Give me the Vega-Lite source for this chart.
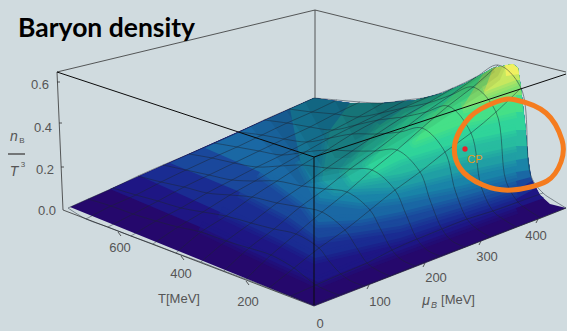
{"$schema":"https://vega.github.io/schema/vega-lite/v6.json","width":567,"height":331,"padding":0,"autosize":{"type":"none"},"background":"#d0dbdf","config":{"view":{"stroke":null}},
"datasets":{
"grid":[
{"u":0,"v":0,"x":314,"y":305},{"u":0,"v":0.05,"x":301,"y":300},{"u":0,"v":0.09,"x":291,"y":296},{"u":0,"v":0.14,"x":279,"y":292},{"u":0,"v":0.18,"x":269,"y":288},{"u":0,"v":0.27,"x":246,"y":279},{"u":0,"v":0.36,"x":224,"y":271},{"u":0,"v":0.45,"x":201,"y":262},{"u":0,"v":0.55,"x":176,"y":253},{"u":0,"v":0.64,"x":153,"y":244},{"u":0,"v":0.73,"x":131,"y":236},{"u":0,"v":0.82,"x":108,"y":227},{"u":0,"v":0.91,"x":86,"y":219},{"u":0,"v":1,"x":68,"y":208},
{"u":0.1,"v":0,"x":339,"y":295},{"u":0.1,"v":0.05,"x":326,"y":290},{"u":0.1,"v":0.09,"x":316,"y":285},{"u":0.1,"v":0.14,"x":304,"y":276},{"u":0.1,"v":0.18,"x":294,"y":268},{"u":0.1,"v":0.27,"x":271,"y":255},{"u":0.1,"v":0.36,"x":249,"y":248},{"u":0.1,"v":0.45,"x":226,"y":241},{"u":0.1,"v":0.55,"x":201,"y":232},{"u":0.1,"v":0.64,"x":178,"y":227},{"u":0.1,"v":0.73,"x":156,"y":221},{"u":0.1,"v":0.82,"x":133,"y":214},{"u":0.1,"v":0.91,"x":111,"y":206},{"u":0.1,"v":1,"x":88,"y":199},
{"u":0.2,"v":0,"x":364,"y":286},{"u":0.2,"v":0.05,"x":351,"y":281},{"u":0.2,"v":0.09,"x":341,"y":274},{"u":0.2,"v":0.14,"x":329,"y":261},{"u":0.2,"v":0.18,"x":319,"y":248},{"u":0.2,"v":0.27,"x":296,"y":234},{"u":0.2,"v":0.36,"x":274,"y":229},{"u":0.2,"v":0.45,"x":251,"y":223},{"u":0.2,"v":0.55,"x":226,"y":216},{"u":0.2,"v":0.64,"x":203,"y":212},{"u":0.2,"v":0.73,"x":181,"y":208},{"u":0.2,"v":0.82,"x":158,"y":201},{"u":0.2,"v":0.91,"x":136,"y":195},{"u":0.2,"v":1,"x":113,"y":188},
{"u":0.3,"v":0,"x":390,"y":276},{"u":0.3,"v":0.05,"x":377,"y":270},{"u":0.3,"v":0.09,"x":367,"y":263},{"u":0.3,"v":0.14,"x":355,"y":245},{"u":0.3,"v":0.18,"x":345,"y":230},{"u":0.3,"v":0.27,"x":322,"y":212},{"u":0.3,"v":0.36,"x":300,"y":207},{"u":0.3,"v":0.45,"x":277,"y":203},{"u":0.3,"v":0.55,"x":252,"y":197},{"u":0.3,"v":0.64,"x":230,"y":195},{"u":0.3,"v":0.73,"x":207,"y":193},{"u":0.3,"v":0.82,"x":184,"y":187},{"u":0.3,"v":0.91,"x":161,"y":182},{"u":0.3,"v":1,"x":138,"y":176},
{"u":0.4,"v":0,"x":415,"y":266},{"u":0.4,"v":0.05,"x":402,"y":260},{"u":0.4,"v":0.09,"x":392,"y":250},{"u":0.4,"v":0.14,"x":380,"y":228},{"u":0.4,"v":0.18,"x":370,"y":210},{"u":0.4,"v":0.27,"x":347,"y":192},{"u":0.4,"v":0.36,"x":325,"y":189},{"u":0.4,"v":0.45,"x":302,"y":186},{"u":0.4,"v":0.55,"x":277,"y":181},{"u":0.4,"v":0.64,"x":255,"y":181},{"u":0.4,"v":0.73,"x":232,"y":180},{"u":0.4,"v":0.82,"x":209,"y":175},{"u":0.4,"v":0.91,"x":186,"y":170},{"u":0.4,"v":1,"x":163,"y":165},
{"u":0.5,"v":0,"x":440,"y":256},{"u":0.5,"v":0.05,"x":427,"y":250},{"u":0.5,"v":0.09,"x":417,"y":239},{"u":0.5,"v":0.14,"x":405,"y":212},{"u":0.5,"v":0.18,"x":395,"y":190},{"u":0.5,"v":0.27,"x":372,"y":170},{"u":0.5,"v":0.36,"x":350,"y":169},{"u":0.5,"v":0.45,"x":327,"y":168},{"u":0.5,"v":0.55,"x":302,"y":165},{"u":0.5,"v":0.64,"x":280,"y":166},{"u":0.5,"v":0.73,"x":257,"y":167},{"u":0.5,"v":0.82,"x":234,"y":163},{"u":0.5,"v":0.91,"x":212,"y":158},{"u":0.5,"v":1,"x":189,"y":154},
{"u":0.6,"v":0,"x":465,"y":247},{"u":0.6,"v":0.05,"x":452,"y":241},{"u":0.6,"v":0.09,"x":442,"y":229},{"u":0.6,"v":0.14,"x":430,"y":200},{"u":0.6,"v":0.18,"x":420,"y":172},{"u":0.6,"v":0.27,"x":397,"y":150},{"u":0.6,"v":0.36,"x":375,"y":151},{"u":0.6,"v":0.45,"x":352,"y":151},{"u":0.6,"v":0.55,"x":327,"y":150},{"u":0.6,"v":0.64,"x":305,"y":152},{"u":0.6,"v":0.73,"x":282,"y":155},{"u":0.6,"v":0.82,"x":259,"y":151},{"u":0.6,"v":0.91,"x":237,"y":147},{"u":0.6,"v":1,"x":214,"y":143},
{"u":0.7,"v":0,"x":490,"y":237},{"u":0.7,"v":0.05,"x":477,"y":229},{"u":0.7,"v":0.09,"x":467,"y":219},{"u":0.7,"v":0.14,"x":455,"y":190},{"u":0.7,"v":0.18,"x":445,"y":152},{"u":0.7,"v":0.27,"x":422,"y":128},{"u":0.7,"v":0.36,"x":400,"y":132},{"u":0.7,"v":0.45,"x":377,"y":134},{"u":0.7,"v":0.55,"x":352,"y":134},{"u":0.7,"v":0.64,"x":330,"y":138},{"u":0.7,"v":0.73,"x":307,"y":142},{"u":0.7,"v":0.82,"x":284,"y":139},{"u":0.7,"v":0.91,"x":262,"y":135},{"u":0.7,"v":1,"x":239,"y":132},
{"u":0.8,"v":0,"x":516,"y":227},{"u":0.8,"v":0.05,"x":503,"y":219},{"u":0.8,"v":0.09,"x":493,"y":211},{"u":0.8,"v":0.14,"x":481,"y":186},{"u":0.8,"v":0.18,"x":471,"y":133},{"u":0.8,"v":0.27,"x":448,"y":106},{"u":0.8,"v":0.36,"x":426,"y":112},{"u":0.8,"v":0.45,"x":403,"y":117},{"u":0.8,"v":0.55,"x":378,"y":120},{"u":0.8,"v":0.64,"x":356,"y":125},{"u":0.8,"v":0.73,"x":333,"y":130},{"u":0.8,"v":0.82,"x":310,"y":127},{"u":0.8,"v":0.91,"x":287,"y":123},{"u":0.8,"v":1,"x":264,"y":120},
{"u":0.9,"v":0,"x":541,"y":218},{"u":0.9,"v":0.05,"x":528,"y":210},{"u":0.9,"v":0.09,"x":518,"y":202},{"u":0.9,"v":0.14,"x":506,"y":181},{"u":0.9,"v":0.18,"x":496,"y":112},{"u":0.9,"v":0.27,"x":473,"y":87},{"u":0.9,"v":0.36,"x":451,"y":95},{"u":0.9,"v":0.45,"x":428,"y":103},{"u":0.9,"v":0.55,"x":403,"y":108},{"u":0.9,"v":0.64,"x":381,"y":113},{"u":0.9,"v":0.73,"x":358,"y":117},{"u":0.9,"v":0.82,"x":335,"y":114},{"u":0.9,"v":0.91,"x":312,"y":112},{"u":0.9,"v":1,"x":289,"y":109},
{"u":1,"v":0,"x":566,"y":208},{"u":1,"v":0.05,"x":553,"y":200},{"u":1,"v":0.09,"x":543,"y":193},{"u":1,"v":0.14,"x":531,"y":176},{"u":1,"v":0.18,"x":521,"y":88},{"u":1,"v":0.27,"x":498,"y":65},{"u":1,"v":0.36,"x":476,"y":77},{"u":1,"v":0.45,"x":453,"y":88},{"u":1,"v":0.55,"x":428,"y":97},{"u":1,"v":0.64,"x":406,"y":100},{"u":1,"v":0.73,"x":383,"y":103},{"u":1,"v":0.82,"x":360,"y":102},{"u":1,"v":0.91,"x":337,"y":100},{"u":1,"v":1,"x":314,"y":98}
],
"bands":[
{"b":"a00","s":1,"x":70,"y":207},{"b":"a00","s":2,"x":314,"y":306},{"b":"a00","s":3,"x":566,"y":208},{"b":"a00","s":4,"x":550,"y":204},{"b":"a00","s":5,"x":540,"y":195},{"b":"a00","s":6,"x":531,"y":178},{"b":"a00","s":7,"x":528,"y":157},{"b":"a00","s":8,"x":525,"y":123},{"b":"a00","s":9,"x":521,"y":88},{"b":"a00","s":10,"x":518,"y":68},{"b":"a00","s":11,"x":513,"y":64},{"b":"a00","s":12,"x":493,"y":68},{"b":"a00","s":13,"x":466,"y":83},{"b":"a00","s":14,"x":443,"y":93},{"b":"a00","s":15,"x":416,"y":100},{"b":"a00","s":16,"x":383,"y":103},{"b":"a00","s":17,"x":350,"y":103},{"b":"a00","s":18,"x":314,"y":98},
{"b":"a01","s":1,"x":110,"y":189},{"b":"a01","s":2,"x":200,"y":227},{"b":"a01","s":3,"x":270,"y":260},{"b":"a01","s":4,"x":318,"y":282},{"b":"a01","s":5,"x":360,"y":265},{"b":"a01","s":6,"x":420,"y":243},{"b":"a01","s":7,"x":480,"y":221},{"b":"a01","s":8,"x":516,"y":208},{"b":"a01","s":9,"x":544,"y":198},{"b":"a01","s":10,"x":540,"y":195},{"b":"a01","s":11,"x":531,"y":178},{"b":"a01","s":12,"x":528,"y":157},{"b":"a01","s":13,"x":525,"y":123},{"b":"a01","s":14,"x":521,"y":88},{"b":"a01","s":15,"x":518,"y":68},{"b":"a01","s":16,"x":513,"y":64},{"b":"a01","s":17,"x":493,"y":68},{"b":"a01","s":18,"x":466,"y":83},{"b":"a01","s":19,"x":443,"y":93},{"b":"a01","s":20,"x":416,"y":100},{"b":"a01","s":21,"x":383,"y":103},{"b":"a01","s":22,"x":350,"y":103},{"b":"a01","s":23,"x":314,"y":98},
{"b":"a02","s":1,"x":140,"y":176},{"b":"a02","s":2,"x":220,"y":212},{"b":"a02","s":3,"x":280,"y":240},{"b":"a02","s":4,"x":315,"y":258},{"b":"a02","s":5,"x":400,"y":238},{"b":"a02","s":6,"x":460,"y":218},{"b":"a02","s":7,"x":516,"y":199},{"b":"a02","s":8,"x":536,"y":188},{"b":"a02","s":9,"x":531,"y":178},{"b":"a02","s":10,"x":528,"y":157},{"b":"a02","s":11,"x":525,"y":123},{"b":"a02","s":12,"x":521,"y":88},{"b":"a02","s":13,"x":518,"y":68},{"b":"a02","s":14,"x":513,"y":64},{"b":"a02","s":15,"x":493,"y":68},{"b":"a02","s":16,"x":466,"y":83},{"b":"a02","s":17,"x":443,"y":93},{"b":"a02","s":18,"x":416,"y":100},{"b":"a02","s":19,"x":383,"y":103},{"b":"a02","s":20,"x":350,"y":103},{"b":"a02","s":21,"x":314,"y":98},
{"b":"a03","s":1,"x":170,"y":163},{"b":"a03","s":2,"x":240,"y":192},{"b":"a03","s":3,"x":290,"y":218},{"b":"a03","s":4,"x":318,"y":238},{"b":"a03","s":5,"x":360,"y":232},{"b":"a03","s":6,"x":400,"y":226},{"b":"a03","s":7,"x":460,"y":208},{"b":"a03","s":8,"x":516,"y":190},{"b":"a03","s":9,"x":532,"y":181},{"b":"a03","s":10,"x":528,"y":157},{"b":"a03","s":11,"x":525,"y":123},{"b":"a03","s":12,"x":521,"y":88},{"b":"a03","s":13,"x":518,"y":68},{"b":"a03","s":14,"x":513,"y":64},{"b":"a03","s":15,"x":493,"y":68},{"b":"a03","s":16,"x":466,"y":83},{"b":"a03","s":17,"x":443,"y":93},{"b":"a03","s":18,"x":416,"y":100},{"b":"a03","s":19,"x":383,"y":103},{"b":"a03","s":20,"x":350,"y":103},{"b":"a03","s":21,"x":314,"y":98},
{"b":"a04","s":1,"x":205,"y":148},{"b":"a04","s":2,"x":260,"y":172},{"b":"a04","s":3,"x":305,"y":205},{"b":"a04","s":4,"x":318,"y":222},{"b":"a04","s":5,"x":360,"y":220},{"b":"a04","s":6,"x":400,"y":212},{"b":"a04","s":7,"x":460,"y":197},{"b":"a04","s":8,"x":516,"y":181},{"b":"a04","s":9,"x":531,"y":177},{"b":"a04","s":10,"x":528,"y":157},{"b":"a04","s":11,"x":525,"y":123},{"b":"a04","s":12,"x":521,"y":88},{"b":"a04","s":13,"x":518,"y":68},{"b":"a04","s":14,"x":513,"y":64},{"b":"a04","s":15,"x":493,"y":68},{"b":"a04","s":16,"x":466,"y":83},{"b":"a04","s":17,"x":443,"y":93},{"b":"a04","s":18,"x":416,"y":100},{"b":"a04","s":19,"x":383,"y":103},{"b":"a04","s":20,"x":350,"y":103},{"b":"a04","s":21,"x":314,"y":98},
{"b":"a05","s":1,"x":290,"y":109},{"b":"a05","s":2,"x":300,"y":160},{"b":"a05","s":3,"x":320,"y":198},{"b":"a05","s":4,"x":360,"y":203},{"b":"a05","s":5,"x":400,"y":198},{"b":"a05","s":6,"x":460,"y":186},{"b":"a05","s":7,"x":516,"y":172},{"b":"a05","s":8,"x":530,"y":170},{"b":"a05","s":9,"x":528,"y":157},{"b":"a05","s":10,"x":525,"y":123},{"b":"a05","s":11,"x":521,"y":88},{"b":"a05","s":12,"x":518,"y":68},{"b":"a05","s":13,"x":513,"y":64},{"b":"a05","s":14,"x":493,"y":68},{"b":"a05","s":15,"x":466,"y":83},{"b":"a05","s":16,"x":443,"y":93},{"b":"a05","s":17,"x":416,"y":100},{"b":"a05","s":18,"x":383,"y":103},{"b":"a05","s":19,"x":350,"y":103},{"b":"a05","s":20,"x":314,"y":98},
{"b":"a06","s":1,"x":350,"y":103},{"b":"a06","s":2,"x":330,"y":130},{"b":"a06","s":3,"x":322,"y":180},{"b":"a06","s":4,"x":335,"y":190},{"b":"a06","s":5,"x":400,"y":187},{"b":"a06","s":6,"x":460,"y":172},{"b":"a06","s":7,"x":516,"y":160},{"b":"a06","s":8,"x":528,"y":158},{"b":"a06","s":9,"x":525,"y":123},{"b":"a06","s":10,"x":521,"y":88},{"b":"a06","s":11,"x":518,"y":68},{"b":"a06","s":12,"x":513,"y":64},{"b":"a06","s":13,"x":493,"y":68},{"b":"a06","s":14,"x":466,"y":83},{"b":"a06","s":15,"x":443,"y":93},{"b":"a06","s":16,"x":416,"y":100},{"b":"a06","s":17,"x":383,"y":103},
{"b":"a07","s":1,"x":416,"y":100},{"b":"a07","s":2,"x":380,"y":125},{"b":"a07","s":3,"x":345,"y":172},{"b":"a07","s":4,"x":352,"y":182},{"b":"a07","s":5,"x":400,"y":174},{"b":"a07","s":6,"x":460,"y":158},{"b":"a07","s":7,"x":516,"y":146},{"b":"a07","s":8,"x":527,"y":146},{"b":"a07","s":9,"x":525,"y":123},{"b":"a07","s":10,"x":521,"y":88},{"b":"a07","s":11,"x":518,"y":68},{"b":"a07","s":12,"x":513,"y":64},{"b":"a07","s":13,"x":493,"y":68},{"b":"a07","s":14,"x":466,"y":83},{"b":"a07","s":15,"x":443,"y":93},
{"b":"a08","s":1,"x":443,"y":93},{"b":"a08","s":2,"x":410,"y":115},{"b":"a08","s":3,"x":368,"y":165},{"b":"a08","s":4,"x":375,"y":172},{"b":"a08","s":5,"x":400,"y":160},{"b":"a08","s":6,"x":460,"y":142},{"b":"a08","s":7,"x":516,"y":130},{"b":"a08","s":8,"x":526,"y":130},{"b":"a08","s":9,"x":521,"y":88},{"b":"a08","s":10,"x":518,"y":68},{"b":"a08","s":11,"x":513,"y":64},{"b":"a08","s":12,"x":493,"y":68},{"b":"a08","s":13,"x":466,"y":83},
{"b":"a09","s":1,"x":466,"y":83},{"b":"a09","s":2,"x":435,"y":112},{"b":"a09","s":3,"x":415,"y":142},{"b":"a09","s":4,"x":460,"y":125},{"b":"a09","s":5,"x":516,"y":112},{"b":"a09","s":6,"x":523,"y":112},{"b":"a09","s":7,"x":521,"y":88},{"b":"a09","s":8,"x":518,"y":68},{"b":"a09","s":9,"x":513,"y":64},{"b":"a09","s":10,"x":493,"y":68},
{"b":"a10","s":1,"x":483,"y":74},{"b":"a10","s":2,"x":462,"y":108},{"b":"a10","s":3,"x":516,"y":95},{"b":"a10","s":4,"x":522,"y":95},{"b":"a10","s":5,"x":521,"y":88},{"b":"a10","s":6,"x":518,"y":68},{"b":"a10","s":7,"x":513,"y":64},{"b":"a10","s":8,"x":493,"y":68},
{"b":"a11","s":1,"x":493,"y":68},{"b":"a11","s":2,"x":484,"y":92},{"b":"a11","s":3,"x":516,"y":80},{"b":"a11","s":4,"x":520,"y":80},{"b":"a11","s":5,"x":518,"y":68},{"b":"a11","s":6,"x":513,"y":64},
{"b":"a12","s":1,"x":505,"y":65},{"b":"a12","s":2,"x":506,"y":76},{"b":"a12","s":3,"x":519,"y":74},{"b":"a12","s":4,"x":518,"y":68},{"b":"a12","s":5,"x":513,"y":64}
],
"shade":[
{"b":"s1","s":1,"x":250,"y":126},{"b":"s1","s":2,"x":300,"y":185},{"b":"s1","s":3,"x":345,"y":178},{"b":"s1","s":4,"x":392,"y":152},{"b":"s1","s":5,"x":427,"y":130},{"b":"s1","s":6,"x":457,"y":110},{"b":"s1","s":7,"x":482,"y":94},{"b":"s1","s":8,"x":500,"y":80},{"b":"s1","s":9,"x":506,"y":66},{"b":"s1","s":10,"x":493,"y":68},{"b":"s1","s":11,"x":466,"y":83},{"b":"s1","s":12,"x":443,"y":93},{"b":"s1","s":13,"x":416,"y":100},{"b":"s1","s":14,"x":383,"y":103},{"b":"s1","s":15,"x":350,"y":103},{"b":"s1","s":16,"x":314,"y":98},
{"b":"s2","s":1,"x":268,"y":118},{"b":"s2","s":2,"x":312,"y":178},{"b":"s2","s":3,"x":345,"y":172},{"b":"s2","s":4,"x":390,"y":146},{"b":"s2","s":5,"x":424,"y":126},{"b":"s2","s":6,"x":454,"y":106},{"b":"s2","s":7,"x":479,"y":90},{"b":"s2","s":8,"x":498,"y":76},{"b":"s2","s":9,"x":503,"y":66},{"b":"s2","s":10,"x":493,"y":68},{"b":"s2","s":11,"x":466,"y":83},{"b":"s2","s":12,"x":443,"y":93},{"b":"s2","s":13,"x":416,"y":100},{"b":"s2","s":14,"x":383,"y":103},{"b":"s2","s":15,"x":350,"y":103},{"b":"s2","s":16,"x":314,"y":98},
{"b":"s3","s":1,"x":286,"y":110},{"b":"s3","s":2,"x":325,"y":172},{"b":"s3","s":3,"x":345,"y":166},{"b":"s3","s":4,"x":387,"y":140},{"b":"s3","s":5,"x":420,"y":120},{"b":"s3","s":6,"x":450,"y":102},{"b":"s3","s":7,"x":475,"y":87},{"b":"s3","s":8,"x":495,"y":72},{"b":"s3","s":9,"x":493,"y":68},{"b":"s3","s":10,"x":466,"y":83},{"b":"s3","s":11,"x":443,"y":93},{"b":"s3","s":12,"x":416,"y":100},{"b":"s3","s":13,"x":383,"y":103},{"b":"s3","s":14,"x":350,"y":103},{"b":"s3","s":15,"x":314,"y":98},
{"b":"s4","s":1,"x":305,"y":102},{"b":"s4","s":2,"x":335,"y":158},{"b":"s4","s":3,"x":350,"y":158},{"b":"s4","s":4,"x":384,"y":134},{"b":"s4","s":5,"x":415,"y":114},{"b":"s4","s":6,"x":445,"y":98},{"b":"s4","s":7,"x":470,"y":84},{"b":"s4","s":8,"x":490,"y":71},{"b":"s4","s":9,"x":466,"y":83},{"b":"s4","s":10,"x":443,"y":93},{"b":"s4","s":11,"x":416,"y":100},{"b":"s4","s":12,"x":383,"y":103},{"b":"s4","s":13,"x":350,"y":103},{"b":"s4","s":14,"x":314,"y":98},
{"b":"s5","s":1,"x":335,"y":101},{"b":"s5","s":2,"x":355,"y":140},{"b":"s5","s":3,"x":383,"y":126},{"b":"s5","s":4,"x":410,"y":110},{"b":"s5","s":5,"x":440,"y":97},{"b":"s5","s":6,"x":466,"y":83},{"b":"s5","s":7,"x":443,"y":93},{"b":"s5","s":8,"x":416,"y":100},{"b":"s5","s":9,"x":383,"y":103},{"b":"s5","s":10,"x":350,"y":103},
{"b":"s6","s":1,"x":370,"y":103},{"b":"s6","s":2,"x":382,"y":118},{"b":"s6","s":3,"x":405,"y":106},{"b":"s6","s":4,"x":435,"y":96},{"b":"s6","s":5,"x":443,"y":93},{"b":"s6","s":6,"x":416,"y":100},{"b":"s6","s":7,"x":383,"y":103}
],
"backEdges":[
{"e":"a","s":1,"x":57,"y":72},{"e":"a","s":2,"x":315,"y":10},{"e":"a","s":3,"x":566,"y":72},
{"e":"b","s":1,"x":315,"y":10},{"e":"b","s":2,"x":315,"y":98},
{"e":"c","s":1,"x":57,"y":72},{"e":"c","s":2,"x":63,"y":210},
{"e":"d","s":1,"x":63,"y":210},{"e":"d","s":2,"x":314,"y":306},{"e":"d","s":3,"x":566,"y":208},
{"e":"t1","s":1,"x":57,"y":82},{"e":"t1","s":2,"x":60,"y":82},{"e":"t2","s":1,"x":59,"y":123},{"e":"t2","s":2,"x":62,"y":123},{"e":"t3","s":1,"x":61,"y":167},{"e":"t3","s":2,"x":64,"y":167},
{"e":"t4","s":1,"x":246,"y":281},{"e":"t4","s":2,"x":249,"y":285},{"e":"t5","s":1,"x":181,"y":256},{"e":"t5","s":2,"x":184,"y":260},{"e":"t6","s":1,"x":118,"y":232},{"e":"t6","s":2,"x":121,"y":236},
{"e":"t7","s":1,"x":369,"y":285},{"e":"t7","s":2,"x":367,"y":289},{"e":"t8","s":1,"x":425,"y":263},{"e":"t8","s":2,"x":423,"y":267},{"e":"t9","s":1,"x":481,"y":241},{"e":"t9","s":2,"x":479,"y":245},{"e":"t10","s":1,"x":538,"y":219},{"e":"t10","s":2,"x":536,"y":223}
],
"frontEdges":[
{"e":"f","s":1,"x":57,"y":72},{"e":"f","s":2,"x":314,"y":157},{"e":"f","s":3,"x":566,"y":74},
{"e":"g","s":1,"x":314,"y":157},{"e":"g","s":2,"x":314,"y":305}
],
"ring":[
{"s":1,"x":516,"y":100},{"s":2,"x":546,"y":113},{"s":3,"x":562,"y":140},{"s":4,"x":561,"y":162},{"s":5,"x":547,"y":181},{"s":6,"x":512,"y":190},{"s":7,"x":483,"y":185},{"s":8,"x":460,"y":168},{"s":9,"x":455,"y":143},{"s":10,"x":470,"y":117},{"s":11,"x":496,"y":102}
],
"ticks":[
{"t":"0.6","x":40,"y":85},{"t":"0.4","x":43,"y":128},{"t":"0.2","x":45,"y":170},{"t":"0.0","x":47,"y":211},
{"t":"600","x":120,"y":248},{"t":"400","x":181,"y":274},{"t":"200","x":248,"y":302},{"t":"T[MeV]","x":179,"y":299},
{"t":"100","x":380,"y":302},{"t":"200","x":436,"y":278},{"t":"300","x":487,"y":257},{"t":"400","x":536,"y":236},{"t":"0","x":320,"y":324},{"t":"[MeV]","x":458,"y":300}
]
},
"encoding":{"x":{"field":"x","type":"quantitative","scale":{"domain":[0,567],"nice":false,"zero":false},"axis":null},"y":{"field":"y","type":"quantitative","scale":{"domain":[331,0],"nice":false,"zero":false},"axis":null}},
"layer":[
{"data":{"name":"backEdges"},"mark":{"type":"line","stroke":"#333","strokeWidth":0.8},"encoding":{"detail":{"field":"e"},"order":{"field":"s"}}},
{"data":{"name":"bands"},"mark":{"type":"line","filled":true},"encoding":{"order":{"field":"s"},"color":{"field":"b","type":"nominal","legend":null,"scale":{"domain":["a00","a01","a02","a03","a04","a05","a06","a07","a08","a09","a10","a11","a12"],"range":["#25086c","#1e1684","#1a2c92","#1a489c","#1a68a4","#1a84a8","#20a0a4","#28bca0","#30d49a","#45e088","#80e070","#c8e860","#f0f060"]}}}},
{"data":{"name":"bands"},"transform":[{"filter":"datum.s>=2 && datum.s<=({a01:8,a02:7,a03:8,a04:8,a05:7,a06:7,a07:7,a08:7,a09:5,a10:3,a11:3})[datum.b]"}],"mark":{"type":"line","strokeWidth":12,"opacity":0.3,"strokeJoin":"round"},"encoding":{"order":{"field":"s"},"color":{"field":"b","type":"nominal","legend":null}}},
{"data":{"name":"bands"},"transform":[{"filter":"datum.s>=2 && datum.s<=({a01:8,a02:7,a03:8,a04:8,a05:7,a06:7,a07:7,a08:7,a09:5,a10:3,a11:3})[datum.b]"}],"mark":{"type":"line","strokeWidth":6,"opacity":0.4,"strokeJoin":"round"},"encoding":{"order":{"field":"s"},"color":{"field":"b","type":"nominal","legend":null}}},
{"data":{"name":"shade"},"mark":{"type":"line","filled":true,"fill":"#000","fillOpacity":0.06,"stroke":null},"encoding":{"detail":{"field":"b"},"order":{"field":"s"}}},
{"data":{"name":"grid"},"mark":{"type":"line","interpolate":"catmull-rom","stroke":"#1c2430","strokeWidth":0.8,"opacity":0.6},"encoding":{"detail":{"field":"u"},"order":{"field":"v"}}},
{"data":{"name":"grid"},"transform":[{"filter":"datum.v != 0.05 && datum.v != 0.14"}],"mark":{"type":"line","interpolate":"catmull-rom","stroke":"#1c2430","strokeWidth":0.8,"opacity":0.6},"encoding":{"detail":{"field":"v"},"order":{"field":"u"}}},
{"data":{"name":"frontEdges"},"mark":{"type":"line","stroke":"#0a0a0a","strokeWidth":1},"encoding":{"detail":{"field":"e"},"order":{"field":"s"}}},
{"data":{"name":"ticks"},"mark":{"type":"text","font":"Liberation Sans","fontSize":13,"fill":"#555"},"encoding":{"text":{"field":"t"}}},
{"data":{"values":[{"t":"μ","x":426,"y":301}]},"mark":{"type":"text","font":"Liberation Sans","fontSize":14,"fontStyle":"italic","fill":"#555"},"encoding":{"text":{"field":"t"}}},
{"data":{"values":[{"t":"B","x":434,"y":305}]},"mark":{"type":"text","font":"Liberation Sans","fontSize":9,"fontStyle":"italic","fill":"#555"},"encoding":{"text":{"field":"t"}}},
{"data":{"values":[{"t":"n","x":14,"y":137},{"t":"T","x":14,"y":172}]},"mark":{"type":"text","font":"Liberation Sans","fontSize":14,"fontStyle":"italic","fill":"#555"},"encoding":{"text":{"field":"t"}}},
{"data":{"values":[{"t":"B","x":22,"y":141},{"t":"3","x":23,"y":165}]},"mark":{"type":"text","font":"Liberation Sans","fontSize":8,"fill":"#555"},"encoding":{"text":{"field":"t"}}},
{"data":{"values":[{"e":"bar","s":1,"x":8,"y":154},{"e":"bar","s":2,"x":25,"y":154}]},"mark":{"type":"line","stroke":"#555","strokeWidth":1.5},"encoding":{"order":{"field":"s"}}},
{"data":{"name":"ring"},"mark":{"type":"line","interpolate":"cardinal-closed","stroke":"#f57c1f","strokeWidth":5},"encoding":{"order":{"field":"s"}}},
{"data":{"values":[{"x":465,"y":149}]},"mark":{"type":"point","filled":true,"size":28,"color":"#e8202a","opacity":1}},
{"data":{"values":[{"t":"CP","x":475,"y":160}]},"mark":{"type":"text","font":"Liberation Sans","fontSize":11,"fill":"#e89a1c"},"encoding":{"text":{"field":"t"}}},
{"data":{"values":[{"t":"Baryon density","x":18,"y":29}]},"mark":{"type":"text","font":"Lato","fontWeight":"bold","fontSize":26.5,"align":"left","fill":"#000"},"encoding":{"text":{"field":"t"}}}
]}
